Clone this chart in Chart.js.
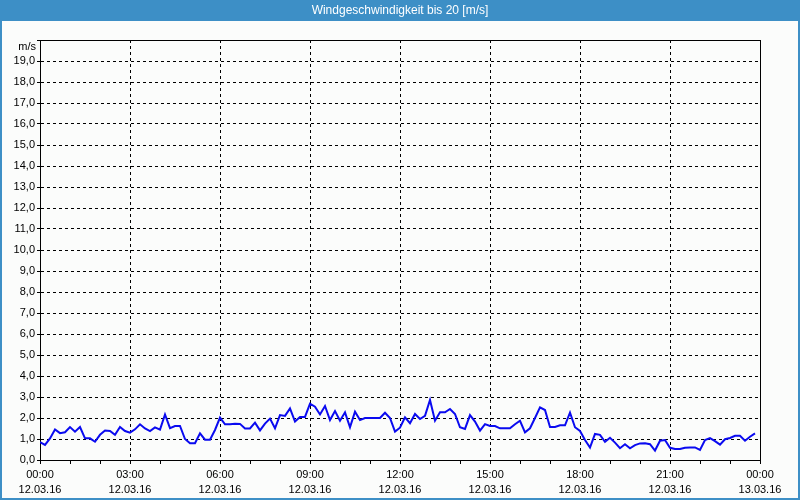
<!DOCTYPE html>
<html>
<head>
<meta charset="utf-8">
<script src="https://cdn.jsdelivr.net/npm/chart.js@4/dist/chart.umd.min.js"></script>
<style>
  html, body { margin: 0; padding: 0; background: #fbfcfb; }
  #wrap { position: relative; width: 800px; height: 500px; }
  canvas { display: block; }
</style>
</head>
<body>
<div id="wrap"><canvas id="c" width="800" height="500"></canvas></div>
<script>
// ---- data ----
const chartTitle = 'Windgeschwindigkeit bis 20 [m/s]';
const unitLabel = 'm/s';
const intervalMinutes = 10; // one reading every 10 minutes, starting 00:00
const speeds = [
  0.85, 0.72, 1.03, 1.45, 1.28, 1.32, 1.57, 1.35, 1.57, 1.03,
  1.03, 0.87, 1.20, 1.40, 1.38, 1.20, 1.57, 1.38, 1.30, 1.46,
  1.70, 1.50, 1.38, 1.55, 1.45, 2.17, 1.52, 1.62, 1.62, 1.00,
  0.80, 0.80, 1.27, 0.97, 0.97, 1.43, 2.02, 1.70, 1.70, 1.73,
  1.72, 1.50, 1.50, 1.78, 1.41, 1.73, 1.97, 1.51, 2.14, 2.10,
  2.46, 1.83, 2.05, 2.05, 2.68, 2.54, 2.17, 2.57, 1.90, 2.33,
  1.87, 2.27, 1.56, 2.30, 1.90, 2.00, 2.00, 2.00, 2.00, 2.25,
  2.00, 1.35, 1.54, 2.03, 1.75, 2.19, 1.95, 2.10, 2.86, 1.87,
  2.27, 2.27, 2.43, 2.19, 1.56, 1.48, 2.14, 1.83, 1.40, 1.71,
  1.62, 1.62, 1.51, 1.51, 1.51, 1.70, 1.87, 1.32, 1.51, 2.00,
  2.51, 2.38, 1.57, 1.57, 1.65, 1.65, 2.25, 1.56, 1.38, 0.95,
  0.59, 1.24, 1.20, 0.87, 1.06, 0.83, 0.56, 0.75, 0.56, 0.71,
  0.79, 0.80, 0.75, 0.45, 0.92, 0.95, 0.58, 0.52, 0.52, 0.58,
  0.60, 0.60, 0.48, 0.95, 1.04, 0.90, 0.73, 0.99, 1.05, 1.15,
  1.15, 0.92, 1.11, 1.27
];
const xTimeLabels = ['00:00','03:00','06:00','09:00','12:00','15:00','18:00','21:00','00:00'];
const xDateLabels = ['12.03.16','12.03.16','12.03.16','12.03.16','12.03.16','12.03.16','12.03.16','12.03.16','13.03.16'];
const yMin = 0, yMax = 20, xMin = 0, xMax = 24;

const points = speeds.map((v, i) => ({ x: i * intervalMinutes / 60, y: v }));

const BLUE = '#3d8fc6';
const FONT = 'Liberation Sans, Arial, sans-serif';

const framePlugin = {
  id: 'frame',
  beforeDraw(chart) {
    const c = chart.ctx;
    c.save();
    c.fillStyle = '#fbfcfb';
    c.fillRect(0, 0, chart.width, chart.height);
    c.fillStyle = BLUE;
    c.fillRect(0, 0, chart.width, 21);
    c.strokeStyle = BLUE;
    c.lineWidth = 2;
    c.strokeRect(1, 1, chart.width - 2, chart.height - 2);
    c.fillStyle = '#ffffff';
    c.font = '12px ' + FONT;
    c.textAlign = 'center';
    c.textBaseline = 'middle';
    c.fillText(chartTitle, chart.width / 2, 11);
    c.restore();
  },
  beforeDatasetsDraw(chart) {
    const a = chart.chartArea;
    const c = chart.ctx;
    c.save();
    c.strokeStyle = '#000';
    c.lineWidth = 1;
    c.setLineDash([]);
    c.strokeRect(Math.round(a.left) + 0.5, Math.round(a.top) + 0.5,
                 Math.round(a.right - a.left), Math.round(a.bottom - a.top));
    c.fillStyle = '#000';
    c.font = '11px ' + FONT;
    c.textAlign = 'right';
    c.textBaseline = 'middle';
    c.fillText(unitLabel, a.left - 4, a.top + 7);
    c.restore();
  }
};

new Chart(document.getElementById('c'), {
  type: 'line',
  data: {
    datasets: [{
      data: points,
      borderColor: '#0a0af0',
      borderWidth: 2,
      pointRadius: 0,
      tension: 0,
      fill: false
    }]
  },
  options: {
    responsive: false,
    animation: false,
    events: [],
    layout: { padding: { left: 0, right: 40, top: 40, bottom: 0 } },
    plugins: { legend: { display: false }, title: { display: false }, tooltip: { enabled: false } },
    scales: {
      x: {
        type: 'linear',
        min: xMin, max: xMax,
        afterFit(s) { s.height = 40; },
        afterBuildTicks(s) {
          const t = [];
          for (let h = xMin; h <= xMax; h += 1) t.push({ value: h });
          s.ticks = t;
        },
        border: { display: true, color: '#000', width: 1, dash: [3, 3] },
        grid: {
          color: (ctx) => (ctx.tick && ctx.tick.value % 3 === 0 && ctx.tick.value > xMin && ctx.tick.value < xMax) ? '#000' : 'rgba(0,0,0,0)',
          tickColor: '#000',
          lineWidth: 1,
          tickBorderDash: [],
          tickLength: 4,
          drawOnChartArea: true
        },
        ticks: {
          autoSkip: false,
          maxRotation: 0,
          minRotation: 0,
          padding: 3,
          color: '#000',
          font: { family: FONT, size: 11, lineHeight: 1.4 },
          callback: (v) => {
            if (v % 3 !== 0) return '';
            const k = v / 3;
            return [xTimeLabels[k], xDateLabels[k]];
          }
        }
      },
      y: {
        min: yMin, max: yMax,
        afterFit(s) { s.width = 40; },
        border: { display: true, color: '#000', width: 1, dash: [3, 3] },
        grid: {
          color: (ctx) => (ctx.tick && ctx.tick.value > yMin && ctx.tick.value < yMax) ? '#000' : 'rgba(0,0,0,0)',
          tickColor: '#000',
          lineWidth: 1,
          tickBorderDash: [],
          tickLength: 3
        },
        ticks: {
          stepSize: 1,
          padding: 2,
          color: '#000',
          font: { family: FONT, size: 11 },
          callback: (v) => v >= yMax ? '' : v.toFixed(1).replace('.', ',')
        }
      }
    }
  },
  plugins: [framePlugin]
});
</script>
</body>
</html>
